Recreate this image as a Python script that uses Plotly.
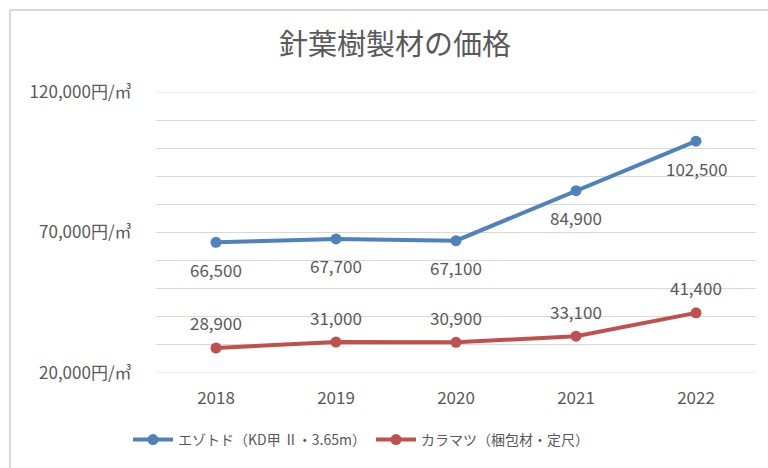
import plotly.graph_objects as go

years = ["2018", "2019", "2020", "2021", "2022"]
ezo_values = [66500, 67700, 67100, 84900, 102500]
kara_values = [28900, 31000, 30900, 33100, 41400]
ezo_name = "エゾトド（KD甲 Ⅱ・3.65m）"
kara_name = "カラマツ（梱包材・定尺）"
title_text = "針葉樹製材の価格"
y_tickvals = [20000, 30000, 40000, 50000, 60000, 70000, 80000, 90000, 100000, 110000, 120000]
y_ticktext = ["20,000円/㎥", "", "", "", "", "70,000円/㎥", "", "", "", "", "120,000円/㎥"]

FONT = "Noto Sans CJK JP, Noto Sans, sans-serif"
GRAY = "#595959"
BLUE = "#4F81BD"
RED = "#C0504D"
GRID = "#d9d9d9"

L, R, T, B = 156, 12, 92, 95
PW, PH = 768 - L - R, 468 - T - B

fig = go.Figure()
fig.add_trace(go.Scatter(
    x=years, y=ezo_values, name=ezo_name, mode="lines+markers",
    line=dict(color=BLUE, width=4), marker=dict(color=BLUE, size=11),
))
fig.add_trace(go.Scatter(
    x=years, y=kara_values, name=kara_name, mode="lines+markers",
    line=dict(color=RED, width=4), marker=dict(color=RED, size=11),
))

annotations = []
for i, v in enumerate(ezo_values):
    annotations.append(dict(x=i, y=v, xref="x", yref="y", text=f"{v:,}", showarrow=False,
                            yshift=-27, yanchor="middle", xanchor="center",
                            font=dict(family=FONT, size=17, color=GRAY)))
for i, v in enumerate(kara_values):
    annotations.append(dict(x=i, y=v, xref="x", yref="y", text=f"{v:,}", showarrow=False,
                            yshift=25, yanchor="middle", xanchor="center",
                            font=dict(family=FONT, size=17, color=GRAY)))

shapes = [
    dict(type="line", xref="paper", yref="paper",
         x0=(10 - L) / PW, x1=(780 - L) / PW,
         y0=(T + PH - 10) / PH, y1=(T + PH - 10) / PH,
         line=dict(color=GRID, width=2)),
    dict(type="line", xref="paper", yref="paper",
         x0=(10 - L) / PW, x1=(10 - L) / PW,
         y0=(T + PH - 10) / PH, y1=(T + PH - 480) / PH,
         line=dict(color=GRID, width=2)),
]
for yv in (y_tickvals[0], y_tickvals[-1]):
    shapes.append(dict(type="line", xref="paper", yref="y", x0=0, x1=1, y0=yv, y1=yv,
                       layer="below", line=dict(color=GRID, width=1)))

fig.update_layout(
    width=768, height=468,
    margin=dict(l=L, r=R, t=T, b=B, autoexpand=False),
    paper_bgcolor="white", plot_bgcolor="white",
    font=dict(family=FONT, color=GRAY, size=16),
    title=dict(text=title_text, x=395 / 768, xanchor="center", y=1 - 45 / 468, yanchor="middle",
               font=dict(family=FONT, size=29, color=GRAY)),
    showlegend=True,
    legend=dict(orientation="h", x=(128 - L) / PW, y=(T + PH - 440) / PH, yanchor="middle",
                xanchor="left", font=dict(family=FONT, size=14, color=GRAY),
                itemwidth=40, tracegroupgap=0, bgcolor="rgba(0,0,0,0)"),
    xaxis=dict(
        type="category", range=[-0.5, 4.5], showgrid=False, zeroline=False, showline=False,
        ticks="outside", ticklen=10, tickcolor="rgba(0,0,0,0)", automargin=False,
        tickfont=dict(family=FONT, size=17, color=GRAY),
    ),
    yaxis=dict(
        range=[20000, 120000], tickvals=y_tickvals, ticktext=y_ticktext,
        showgrid=True, gridcolor=GRID, gridwidth=1, zeroline=False, showline=False,
        ticks="outside", ticklen=20, tickcolor="rgba(0,0,0,0)", automargin=False,
        tickfont=dict(family=FONT, size=17, color=GRAY),
    ),
    annotations=annotations,
    shapes=shapes,
)

fig.write_html(
    "out.html",
    config={"displayModeBar": False},
    post_script="document.body.style.margin='0';document.body.style.padding='0';",
)
